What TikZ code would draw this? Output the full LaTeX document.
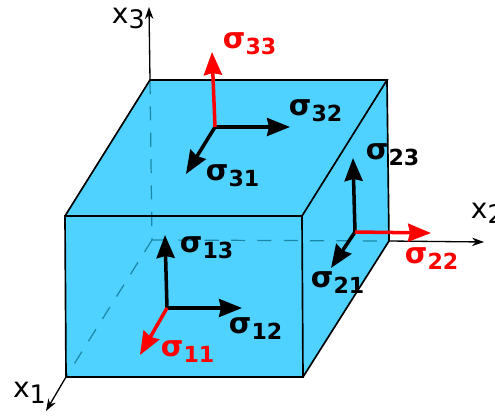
\documentclass[tikz,border=0pt]{standalone}
\usepackage{fontspec}
\setmainfont{DejaVu Sans}
\usetikzlibrary{arrows.meta}
\definecolor{cubeblue}{HTML}{4FD2FF}
\definecolor{hiddenblue}{HTML}{1B87A8}
\newcommand{\sig}[1]{{\bfseries\fontsize{16.5}{16.5}\selectfont σ\raisebox{-3.6pt}{\fontsize{12.6}{12.6}\selectfont #1}}}
\newcommand{\axislabel}[1]{{\fontsize{16}{16}\selectfont x\raisebox{-3pt}{\fontsize{14.5}{14.5}\selectfont #1}}}
\begin{document}
\begin{tikzpicture}[x=0.02cm,y=-0.02cm]

\tikzset{edge/.style={black,line width=0.95pt,line join=miter}}
\tikzset{hidden/.style={hiddenblue,line width=0.7pt,dash pattern=on 8pt off 7pt}}
\tikzset{axis/.style={black,line width=0.75pt,-{Stealth[length=0.24cm,width=0.17cm]}}}
\tikzset{stress/.style={black,line width=2pt,-{Stealth[length=0.46cm,width=0.36cm,inset=0.04cm]}}}
\tikzset{normal/.style={stress,red}}
\tikzset{lab/.style={anchor=base west,inner sep=0pt,outer sep=0pt}}

\useasboundingbox (0,0) rectangle (495,416);

% cube corners
\coordinate (ftl) at (65,216);
\coordinate (ftr) at (302,216);
\coordinate (fbl) at (66,377);
\coordinate (fbr) at (303,377);
\coordinate (btl) at (150,80);
\coordinate (btr) at (387,80);
\coordinate (bbl) at (152,240);
\coordinate (bbr) at (389,241);

% axis ends
\coordinate (x1end) at (46,411);
\coordinate (x2end) at (484,242);
\coordinate (x3end) at (149,7);

\fill[cubeblue] (ftl)--(btl)--(btr)--(bbr)--(fbr)--(fbl)--cycle;

\draw[hidden] (btl)--(bbl);
\draw[hidden] (bbl)--(fbl);
\draw[hidden] (bbl)--(bbr);

\draw[edge] (ftl)--(ftr)--(fbr)--(fbl)--cycle;
\draw[edge] (ftl)--(btl)--(btr)--(ftr);
\draw[edge] (btr)--(bbr)--(fbr);

\draw[axis] (btl)--(x3end);
\draw[axis] (fbl)--(x1end);
\draw[axis] (bbr)--(x2end);

% stress arrows, top face
\coordinate (otop) at (215,127);
\coordinate (t33) at (212,52);
\coordinate (t32) at (290,127);
\coordinate (t31) at (186,174);
% front face
\coordinate (ofront) at (167,308);
\coordinate (t13) at (165,235);
\coordinate (t12) at (242,308);
\coordinate (t11) at (140,355);
% side face
\coordinate (oside) at (355,232);
\coordinate (t23) at (353,158);
\coordinate (t22) at (431,233);
\coordinate (t21) at (331,268);

\foreach \o/\t in {otop/t32,otop/t31,ofront/t13,ofront/t12,oside/t23,oside/t21}
{
    \draw[stress] (\o)--(\t);
}
\foreach \o/\t in {otop/t33,ofront/t11,oside/t22}
{
    \draw[normal] (\o)--(\t);
}

\foreach \n/\x/\y in {32/289/115,31/206/180,23/366/159,13/180/252,12/229/333,21/311/287}
{
    \node[lab] (s\n) at (\x,\y) {\sig{\n}};
}
\foreach \n/\x/\y in {33/223/48,11/161/356,22/405/263}
{
    \node[lab,text=red] (s\n) at (\x,\y) {\sig{\n}};
}

\node[lab] (x3lab) at (112,23) {\axislabel{3}};
\node[lab] (x1lab) at (13,398) {\axislabel{1}};
\node[lab] (x2lab) at (471,218) {\axislabel{2}};

\end{tikzpicture}
\end{document}
